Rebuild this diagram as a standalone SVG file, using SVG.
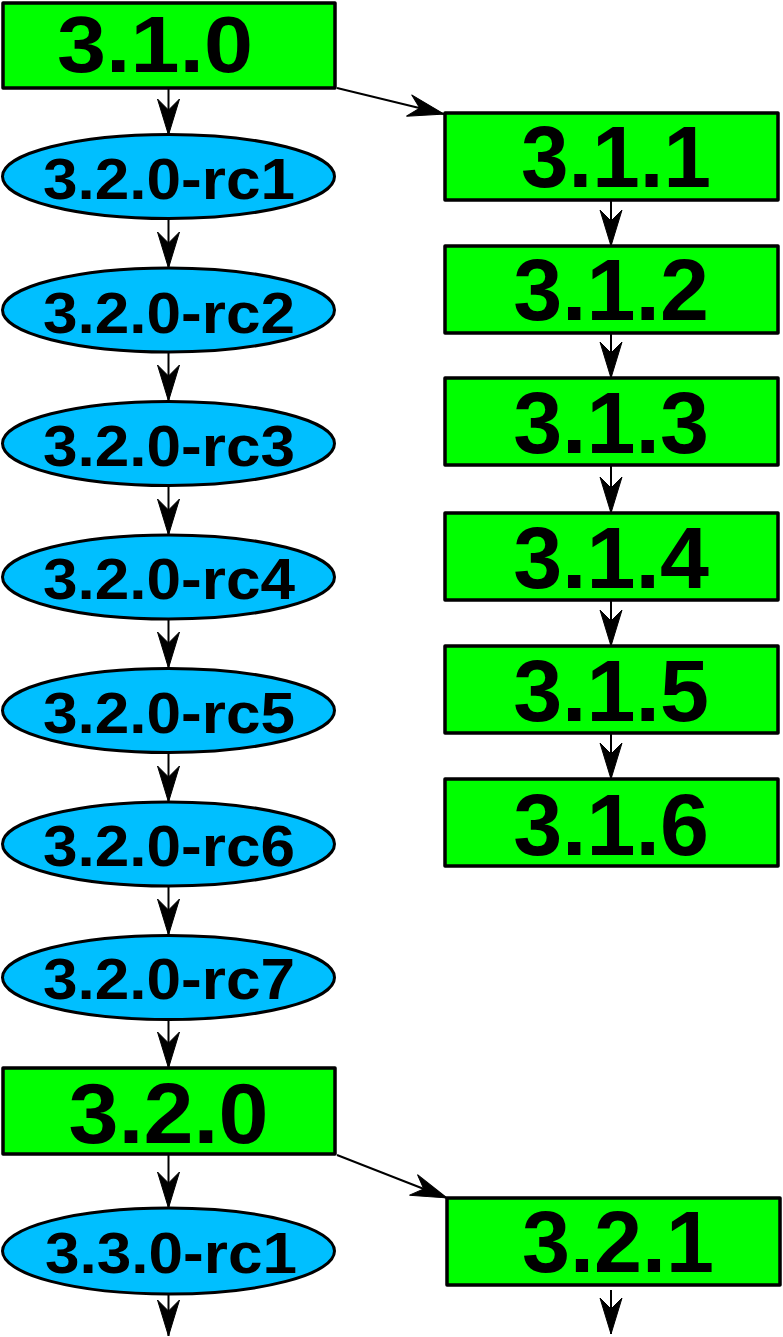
<svg xmlns="http://www.w3.org/2000/svg" width="783" height="1337" viewBox="0 0 783 1337">
<defs>
<style>
.box{fill:#00ff00;stroke:#000;stroke-width:3.5;stroke-linejoin:round}
.ell{fill:#00bfff;stroke:#000;stroke-width:3}
.t{font-family:"Liberation Sans",Arial,sans-serif;font-weight:bold;fill:#000;text-anchor:middle}
.tb{font-size:88px}
.te{font-size:58px}
.edge{stroke:#000;stroke-width:2;fill:none;marker-end:url(#ah)}
</style>
<marker id="ah" markerUnits="userSpaceOnUse" viewBox="0 -12 36 24" refX="36" refY="0" markerWidth="36" markerHeight="24" orient="auto" overflow="visible">
<path d="M0,-11 L36,0 L0,11 L11,0 Z" fill="#000" stroke="#000" stroke-width="1"/>
</marker>
</defs>
<rect width="783" height="1337" fill="#fff"/>
<g id="edges">
<line class="edge" x1="168.5" y1="89" x2="168.5" y2="135"/>
<line class="edge" x1="168.5" y1="218" x2="168.5" y2="268"/>
<line class="edge" x1="168.5" y1="352" x2="168.5" y2="401"/>
<line class="edge" x1="168.5" y1="486" x2="168.5" y2="535"/>
<line class="edge" x1="168.5" y1="619" x2="168.5" y2="668"/>
<line class="edge" x1="168.5" y1="753" x2="168.5" y2="802"/>
<line class="edge" x1="168.5" y1="886" x2="168.5" y2="935"/>
<line class="edge" x1="168.5" y1="1020" x2="168.5" y2="1068"/>
<line class="edge" x1="168.5" y1="1155" x2="168.5" y2="1208"/>
<line class="edge" x1="168.5" y1="1294" x2="168.5" y2="1336"/>
<line class="edge" x1="337" y1="88" x2="444" y2="114"/>
<line class="edge" x1="337" y1="1155" x2="447" y2="1198"/>
<line class="edge" x1="611" y1="200" x2="611" y2="246"/>
<line class="edge" x1="611" y1="333" x2="611" y2="378"/>
<line class="edge" x1="611" y1="466" x2="611" y2="513"/>
<line class="edge" x1="611" y1="601" x2="611" y2="646"/>
<line class="edge" x1="611" y1="734" x2="611" y2="779"/>
<line class="edge" x1="611" y1="1290" x2="611" y2="1334"/>
</g>
<g id="n310"><rect class="box" x="3" y="3" width="332" height="85"/><text class="t" x="155" y="72" font-size="80" textLength="196" lengthAdjust="spacingAndGlyphs">3.1.0</text></g>
<g id="n311"><rect class="box" x="445" y="113" width="333" height="87"/><text class="t tb" x="616" y="187" textLength="190" lengthAdjust="spacingAndGlyphs">3.1.1</text></g>
<g id="n312"><rect class="box" x="445" y="246" width="333" height="87"/><text class="t tb" x="611" y="320">3.1.2</text></g>
<g id="n313"><rect class="box" x="445" y="378" width="333" height="87"/><text class="t tb" x="611" y="453">3.1.3</text></g>
<g id="n314"><rect class="box" x="445" y="513" width="333" height="87"/><text class="t tb" x="611" y="588">3.1.4</text></g>
<g id="n315"><rect class="box" x="445" y="646" width="333" height="87"/><text class="t tb" x="611" y="721">3.1.5</text></g>
<g id="n316"><rect class="box" x="445" y="779" width="333" height="87"/><text class="t tb" x="611" y="855">3.1.6</text></g>
<g id="rc1"><ellipse class="ell" cx="168.5" cy="176.5" rx="166" ry="42"/><text class="t te" x="169" y="199" textLength="252" lengthAdjust="spacingAndGlyphs">3.2.0-rc1</text></g>
<g id="rc2"><ellipse class="ell" cx="168.5" cy="310" rx="166" ry="42"/><text class="t te" x="169" y="333" textLength="252" lengthAdjust="spacingAndGlyphs">3.2.0-rc2</text></g>
<g id="rc3"><ellipse class="ell" cx="168.5" cy="443.5" rx="166" ry="42"/><text class="t te" x="169" y="466" textLength="252" lengthAdjust="spacingAndGlyphs">3.2.0-rc3</text></g>
<g id="rc4"><ellipse class="ell" cx="168.5" cy="577" rx="166" ry="42"/><text class="t te" x="169" y="599" textLength="252" lengthAdjust="spacingAndGlyphs">3.2.0-rc4</text></g>
<g id="rc5"><ellipse class="ell" cx="168.5" cy="710.5" rx="166" ry="42"/><text class="t te" x="169" y="733" textLength="252" lengthAdjust="spacingAndGlyphs">3.2.0-rc5</text></g>
<g id="rc6"><ellipse class="ell" cx="168.5" cy="844" rx="166" ry="42"/><text class="t te" x="169" y="866" textLength="252" lengthAdjust="spacingAndGlyphs">3.2.0-rc6</text></g>
<g id="rc7"><ellipse class="ell" cx="168.5" cy="977.5" rx="166" ry="42"/><text class="t te" x="169" y="999" textLength="252" lengthAdjust="spacingAndGlyphs">3.2.0-rc7</text></g>
<g id="n320"><rect class="box" x="3" y="1068" width="332" height="86"/><text class="t" x="168.5" y="1143" font-size="85" textLength="200" lengthAdjust="spacingAndGlyphs">3.2.0</text></g>
<g id="rc330"><ellipse class="ell" cx="168.5" cy="1251" rx="166" ry="43"/><text class="t te" x="171" y="1273" textLength="252" lengthAdjust="spacingAndGlyphs">3.3.0-rc1</text></g>
<g id="n321"><rect class="box" x="447" y="1198" width="333" height="87"/><text class="t tb" x="618" y="1272" textLength="192" lengthAdjust="spacingAndGlyphs">3.2.1</text></g>
</svg>
